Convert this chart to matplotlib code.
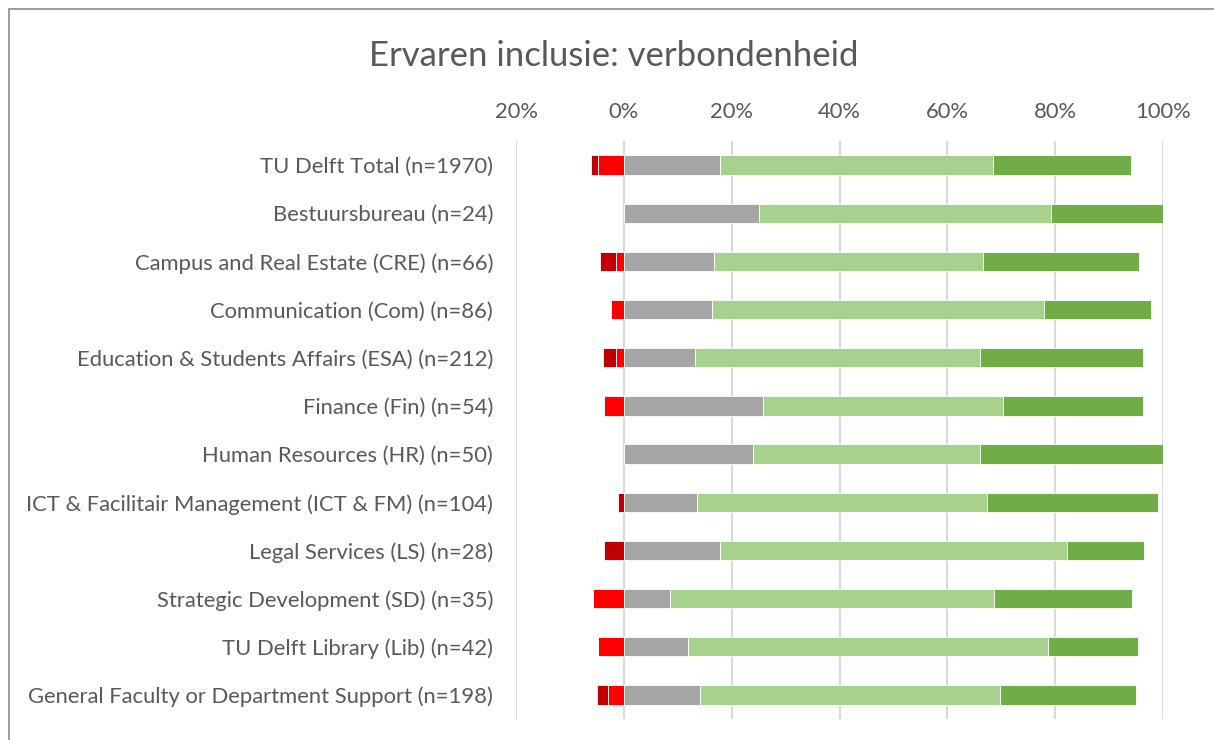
import numpy as np
import matplotlib.pyplot as plt
from matplotlib.patches import Rectangle

plt.rcParams['font.family'] = ['Lato', 'DejaVu Sans']

categories = [
    "TU Delft Total (n=1970)",
    "Bestuursbureau (n=24)",
    "Campus and Real Estate (CRE) (n=66)",
    "Communication (Com) (n=86)",
    "Education & Students Affairs (ESA) (n=212)",
    "Finance (Fin) (n=54)",
    "Human Resources (HR) (n=50)",
    "ICT & Facilitair Management (ICT & FM) (n=104)",
    "Legal Services (LS) (n=28)",
    "Strategic Development (SD) (n=35)",
    "TU Delft Library (Lib) (n=42)",
    "General Faculty or Department Support (n=198)",
]

# percentages
helemaal_oneens = [1.2, 0.0, 3.0, 0.0, 2.4, 0.0, 0.0, 1.0, 3.6, 0.0, 0.0, 2.0]
oneens = [4.8, 0.0, 1.5, 2.3, 1.4, 3.7, 0.0, 0.0, 0.0, 5.7, 4.8, 3.0]
neutraal = [17.8, 25.0, 16.7, 16.3, 13.2, 25.9, 24.0, 13.5, 17.9, 8.6, 11.9, 14.1]
eens = [50.7, 54.2, 50.0, 61.6, 52.8, 44.4, 42.0, 53.8, 64.3, 60.0, 66.7, 55.6]
helemaal_eens = [25.5, 20.8, 28.8, 19.8, 30.2, 25.9, 34.0, 31.7, 14.3, 25.7, 16.7, 25.3]

x_ticks = [-20, 0, 20, 40, 60, 80, 100]
x_ticklabels = ["20%", "0%", "20%", "40%", "60%", "80%", "100%"]

c_dr = "#C00000"
c_r = "#FF0000"
c_grey = "#A5A5A5"
c_lg = "#A9D18E"
c_dg = "#70AD47"
txt = "#595959"

hoo = np.array(helemaal_oneens)
oo = np.array(oneens)
neu = np.array(neutraal)
ee = np.array(eens)
hee = np.array(helemaal_eens)

fig = plt.figure(figsize=(12.14, 7.40), dpi=100)
ax = fig.add_axes([516/1214, 1 - 719/740, (1163 - 516)/1214, (719 - 141)/740])

y = np.arange(len(categories))
h = 0.4
kw = dict(height=h, edgecolor="white", linewidth=0.6, zorder=3)

ax.barh(y, -oo, left=0, color=c_r, **kw)
ax.barh(y, -hoo, left=-oo, color=c_dr, **kw)
ax.barh(y, neu, left=0, color=c_grey, **kw)
ax.barh(y, ee, left=neu, color=c_lg, **kw)
ax.barh(y, hee, left=neu + ee, color=c_dg, **kw)

ax.set_xlim(-20, 100)
ax.set_ylim(len(categories) - 0.5, -0.5)
ax.set_xticks(x_ticks)
ax.set_xticklabels(x_ticklabels)
ax.set_yticks(y)
ax.set_yticklabels(categories)
ax.xaxis.tick_top()
ax.tick_params(axis="x", length=0, pad=14, labelsize=15.8, labelcolor=txt)
ax.tick_params(axis="y", length=0, pad=16.5, labelsize=15.8, labelcolor=txt)
ax.grid(axis="x", color="#D9D9D9", linewidth=1.5, zorder=0)
ax.set_axisbelow(True)
for s in ax.spines.values():
    s.set_visible(False)

fig.text(614/1214, 1 - 56/740, "Ervaren inclusie: verbondenheid",
         ha="center", va="center", fontsize=25, color=txt)

# chart frame
fig.patches.append(Rectangle((9/1214, -0.1), 1.2, 1 - 9/740 + 0.1,
                             transform=fig.transFigure, fill=False,
                             edgecolor="#8C8C8C", linewidth=1.2))

fig.savefig("out.png", dpi=100)
